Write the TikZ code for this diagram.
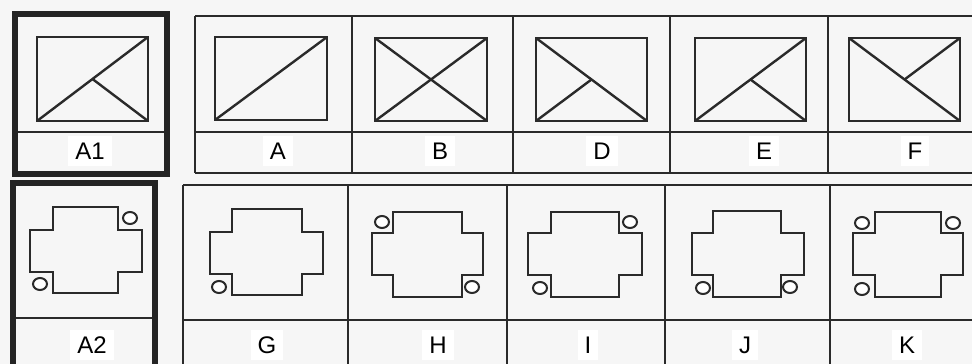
\documentclass[tikz,border=0pt]{standalone}
\usepackage{fontspec}
\setmainfont{Liberation Sans}
\definecolor{ink}{HTML}{2A2A2A}
\definecolor{paper}{HTML}{F6F6F6}
\tikzset{
  thin line/.style={draw=ink, line width=2pt},
  thick frame/.style={draw=ink!85!black, line width=5.5pt},
  figline/.style={draw=ink, line width=2.4pt},
  label text/.style={font=\fontsize{24}{26}\selectfont, fill=white, inner xsep=7pt, minimum height=30pt, text=black},
  hole/.style={draw=ink, line width=2pt, fill=white}
}
\newcommand{\crossfig}[8]{%
  \draw[figline] (#2,#5) -- (#3,#5) -- (#3,#6) -- (#4,#6) -- (#4,#7) -- (#3,#7) -- (#3,#8) -- (#2,#8) -- (#2,#7) -- (#1,#7) -- (#1,#6) -- (#2,#6) -- cycle;}
\begin{document}
\begin{tikzpicture}[x=1pt,y=-1pt]
\fill[paper] (0,0) rectangle (972,364);
\useasboundingbox (0,0) rectangle (972,364);
% ---------- top row ----------
\draw[thin line] (195,16) -- (972,16);
\draw[thin line] (195,132) -- (972,132);
\draw[thin line] (195,173) -- (972,173);
\foreach \x in {195,352,513,670,828} \draw[thin line] (\x,16) -- (\x,173);
\draw[thin line] (15,132) -- (167,132);
\draw[thick frame] (15,14) rectangle (167,174);
% inner rectangles with diagonals
% A1
\draw[figline] (37,37) rectangle (148,121);
\draw[figline] (37,121) -- (148,37);
\draw[figline] (92.5,79) -- (148,121);
% A
\draw[figline] (215,37) rectangle (327,120);
\draw[figline] (215,120) -- (327,37);
% B
\draw[figline] (375,38) rectangle (487,121);
\draw[figline] (375,121) -- (487,38);
\draw[figline] (375,38) -- (487,121);
% D
\draw[figline] (536,38) rectangle (647,121);
\draw[figline] (536,38) -- (647,121);
\draw[figline] (591.5,79.5) -- (536,121);
% E
\draw[figline] (695,38) rectangle (806,121);
\draw[figline] (695,121) -- (806,38);
\draw[figline] (750.5,79.5) -- (806,121);
% F
\draw[figline] (849,38) rectangle (960,121);
\draw[figline] (849,38) -- (960,121);
\draw[figline] (904.5,79.5) -- (960,38);
% top labels
\node[label text] (lA1) at (90,151) {A1};
\node[label text] (lA) at (278,151) {A};
\node[label text] (lB) at (440,151) {B};
\node[label text] (lD) at (602,151) {D};
\node[label text] (lE) at (764,151) {E};
\node[label text] (lF) at (915,151) {F};
% ---------- bottom row ----------
\draw[thin line] (183,185) -- (972,185);
\draw[thin line] (183,320) -- (972,320);
\foreach \x in {183,348,507,665,830} \draw[thin line] (\x,185) -- (\x,366);
\draw[thin line] (13,318) -- (155,318);
\draw[thick frame] (13,368) -- (13,183) -- (155,183) -- (155,368);
% cross shapes
\crossfig{30}{53}{118}{142}{207}{230}{272}{293}
\crossfig{210}{232}{302}{323}{209}{232}{274}{295}
\crossfig{372}{393}{462}{483}{212}{233}{275}{297}
\crossfig{528}{551}{619}{642}{212}{233}{275}{297}
\crossfig{692}{713}{781}{804}{211}{233}{275}{297}
\crossfig{853}{875}{941}{963}{212}{233}{275}{297}
% holes
\draw[hole] (130,218) ellipse [x radius=7, y radius=6];
\draw[hole] (40,284) ellipse [x radius=7, y radius=6];
\draw[hole] (219,287) ellipse [x radius=7, y radius=6];
\draw[hole] (382,222) ellipse [x radius=7, y radius=6];
\draw[hole] (472,287) ellipse [x radius=7, y radius=6];
\draw[hole] (630,222) ellipse [x radius=7, y radius=6];
\draw[hole] (540,288) ellipse [x radius=7, y radius=6];
\draw[hole] (703,288) ellipse [x radius=7, y radius=6];
\draw[hole] (790,287) ellipse [x radius=7, y radius=6];
\draw[hole] (862,223) ellipse [x radius=7, y radius=6];
\draw[hole] (953,223) ellipse [x radius=7, y radius=6];
\draw[hole] (862,289) ellipse [x radius=7, y radius=6];
% bottom labels
\node[label text] (lA2) at (92,345) {A2};
\node[label text] (lG) at (267,345) {G};
\node[label text] (lH) at (438,345) {H};
\node[label text] (lI) at (588,345) {I};
\node[label text] (lJ) at (745,345) {J};
\node[label text] (lK) at (907,345) {K};
\end{tikzpicture}
\end{document}
